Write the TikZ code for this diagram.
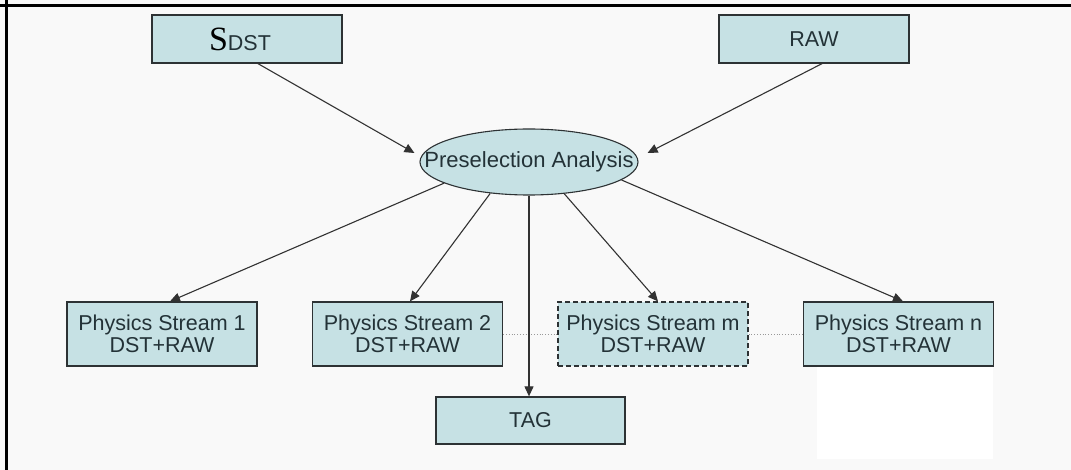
\documentclass[tikz,border=0pt]{standalone}
\usepackage{fontspec}
\setmainfont{Liberation Sans}
\newfontfamily\serifS{Liberation Serif}
\usetikzlibrary{shapes.geometric,arrows.meta}
\definecolor{boxfill}{RGB}{198,225,228}
\definecolor{boxline}{RGB}{45,50,52}
\definecolor{txt}{RGB}{35,50,55}
\definecolor{arr}{RGB}{50,50,50}
\definecolor{bg}{RGB}{249,249,249}
\begin{document}
\begin{tikzpicture}[x=1pt,y=-1pt,
  box/.style={draw=boxline, line width=1.3pt, fill=boxfill, inner sep=0pt,
    minimum width=190pt, text=txt, align=center,
    font=\fontsize{21.5}{22}\selectfont},
  onebox/.style={box, minimum height=48pt},
  twobox/.style={box, minimum height=64pt},
  oval/.style={ellipse, draw=boxline, line width=1.1pt, fill=boxfill, inner sep=0pt,
    minimum width=218pt, minimum height=66pt, text=txt,
    font=\fontsize{22}{24}\selectfont},
  link/.style={draw=arr, line width=1.1pt, -{Triangle[length=10pt,width=9pt]}},
  dots/.style={draw=black!40, line width=0.8pt, dotted}]
\useasboundingbox (0,0) rectangle (1071,470);
\fill[bg] (0,0) rectangle (1071,470);
\draw[line width=2.8pt, black] (0,5.7) -- (1071,5.7);
\draw[line width=2.6pt, black] (6.2,0) -- (6.2,470);
\fill[white] (817,367) rectangle (993,459);

\node[onebox] (sdst) at (247,39) {\hspace*{-14pt}{\serifS\color{black}\fontsize{34}{34}\selectfont S}DST};
\node[onebox] (raw) at (814,39) {RAW};
\node[oval] (pre) at (529,162) {\makebox[0pt]{Preselection Analysis}};
\node[twobox] (s1) at (162,334) {Physics Stream 1\\DST+RAW};
\node[twobox] (s2) at (407.5,334) {Physics Stream 2\\DST+RAW};
\node[twobox, dash pattern=on 5pt off 3pt] (sm) at (653,334) {Physics Stream m\\DST+RAW};
\node[twobox] (sn) at (898.5,334) {Physics Stream n\\DST+RAW};
\node[onebox, minimum width=189pt, minimum height=47pt] (tag) at (530.5,420.5) {TAG};

\draw[dots] (s2.east) -- (sm.west);
\draw[dots] (sm.east) -- (sn.west);

\draw[link] ([xshift=11pt]sdst.south) -- ([shift={(-5pt,9pt)}]pre.west);
\draw[link] ([xshift=8pt]raw.south) -- ([shift={(9pt,9pt)}]pre.east);
\draw[link] (pre.194) -- ([xshift=8pt]s1.north);
\draw[link] (pre.219) -- ([xshift=2.5pt]s2.north);
\draw[link] (pre.south) -- (pre.south |- tag.north);
\draw[link] (pre.318) -- ([xshift=5pt]sm.north);
\draw[link] (pre.349) -- ([xshift=4.5pt]sn.north);
\end{tikzpicture}
\end{document}
